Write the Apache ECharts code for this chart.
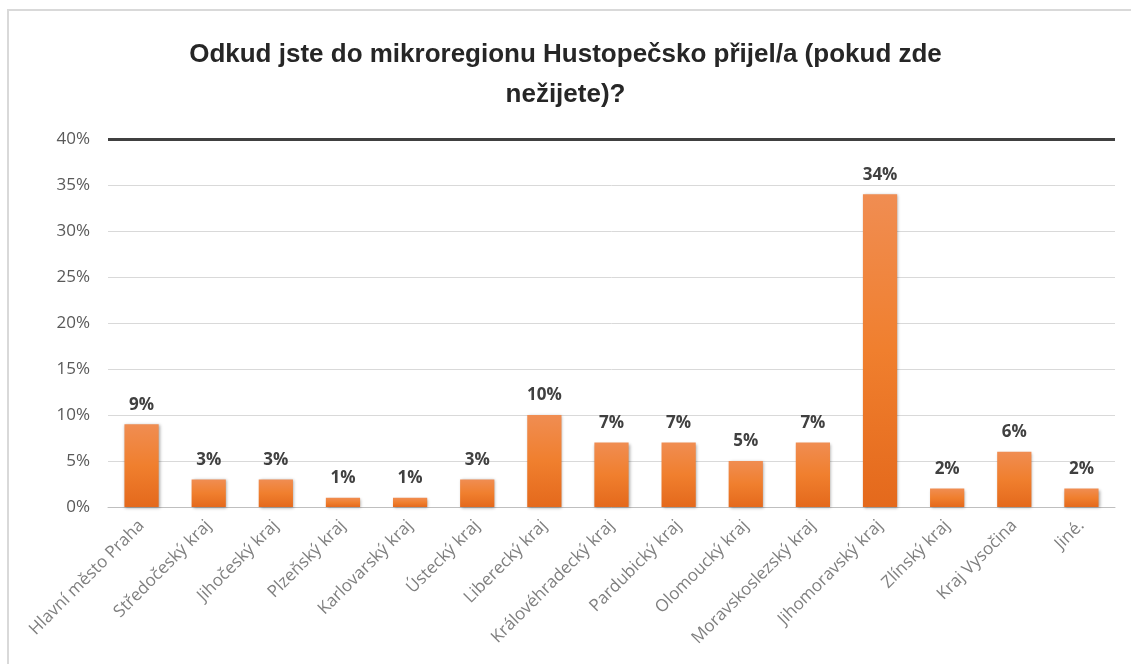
<!DOCTYPE html>
<html>
<head>
<meta charset="utf-8">
<script src="https://cdn.jsdelivr.net/npm/echarts@6/dist/echarts.min.js"></script>
<style>
html,body{margin:0;padding:0;background:#fff;}
#chart{width:1131px;height:664px;}
</style>
</head>
<body>
<div id="chart"></div>
<script>
const titleText = 'Odkud jste do mikroregionu Hustopečsko přijel/a (pokud zde\nnežijete)?';
const categories = ['Hlavní město Praha','Středočeský kraj','Jihočeský kraj','Plzeňský kraj','Karlovarský kraj','Ústecký kraj','Liberecký kraj','Královéhradecký kraj','Pardubický kraj','Olomoucký kraj','Moravskoslezský kraj','Jihomoravský kraj','Zlínský kraj','Kraj Vysočina','Jiné.'];
const values = [9, 3, 3, 1, 1, 3, 10, 7, 7, 5, 7, 34, 2, 6, 2];
const yMin = 0, yMax = 40, yStep = 5;

const chart = echarts.init(document.getElementById('chart'), null, {renderer:'canvas'});
chart.setOption({
  animation:false,
  backgroundColor:'#ffffff',
  graphic:[{
    type:'rect', z:-10,
    shape:{x:8, y:10, width:1400, height:900},
    style:{fill:'#ffffff', stroke:'#d9d9d9', lineWidth:2}
  }],
  title:{
    text:titleText, left:'center', top:30,
    textStyle:{fontFamily:'Liberation Sans', fontWeight:'bold', fontSize:26, color:'#262626', lineHeight:40}
  },
  grid:{left:108, right:16, top:139, bottom:157, containLabel:false},
  xAxis:{
    type:'category', data:categories,
    axisLine:{lineStyle:{color:'#bfbfbf', width:1}},
    axisTick:{show:false},
    axisLabel:{rotate:45, interval:0, color:'#7f7f7f', fontFamily:'Open Sans', fontSize:17, margin:16}
  },
  yAxis:{
    type:'value', min:yMin, max:yMax, interval:yStep,
    axisLine:{show:false}, axisTick:{show:false},
    axisLabel:{formatter:'{value}%', color:'#595959', fontFamily:'Open Sans', fontSize:17, margin:18},
    splitLine:{lineStyle:{color:'#d9d9d9', width:1}}
  },
  series:[{
    type:'bar', data:values, barWidth:'51%',
    itemStyle:{
      color:new echarts.graphic.LinearGradient(0,0,0,1,[{offset:0,color:'#f08d52'},{offset:0.5,color:'#f07f2e'},{offset:1,color:'#e4691c'}]),
      shadowColor:'rgba(0,0,0,0.35)', shadowBlur:3, shadowOffsetX:1, shadowOffsetY:1
    },
    label:{show:true, position:'top', distance:11, formatter:'{c}%', color:'#404040', fontFamily:'Open Sans', fontWeight:'bold', fontSize:17},
    markLine:{
      silent:true, symbol:'none', label:{show:false},
      lineStyle:{color:'#404040', width:3, type:'solid'},
      data:[{yAxis:yMax}]
    }
  }]
});
</script>
</body>
</html>
